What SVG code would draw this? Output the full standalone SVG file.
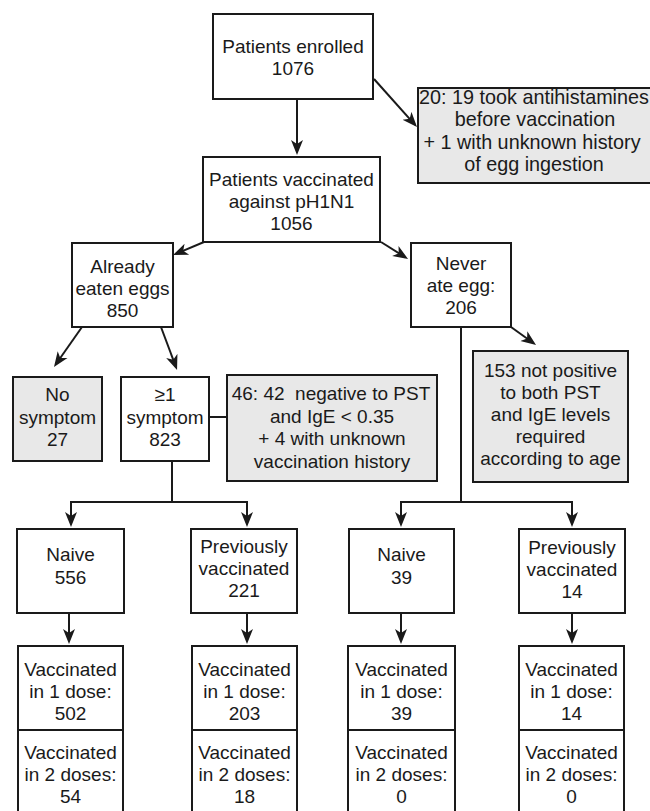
<svg xmlns="http://www.w3.org/2000/svg" width="650" height="811" viewBox="0 0 650 811">
<defs>
<style>
.box{fill:#ffffff;stroke:#1a1a1a;stroke-width:2}
.ex{fill:#e8e8e8;stroke:#1a1a1a;stroke-width:2}
.ln{fill:none;stroke:#1a1a1a;stroke-width:2}
.ar{fill:none;stroke:#1a1a1a;stroke-width:2;marker-end:url(#ah)}
text{font-family:"Liberation Sans",Arial,Helvetica,sans-serif;font-size:19px;fill:#1a1a1a;text-anchor:middle}
.big{font-size:19.8px}
</style>
<marker id="ah" markerUnits="userSpaceOnUse" viewBox="0 -7 16 14" markerWidth="16" markerHeight="14" refX="12" refY="0" orient="auto">
<path d="M0,-6 L15,0 L0,6 L4,0 Z" fill="#1a1a1a"/>
</marker>
</defs>
<rect width="650" height="811" fill="#ffffff"/>

<g id="connectors">
<line class="ar" x1="297" y1="99" x2="297" y2="152"/>
<line class="ar" x1="374" y1="79" x2="415" y2="124.8"/>
<line class="ar" x1="204" y1="242" x2="175.8" y2="253.8"/>
<line class="ar" x1="381" y1="242" x2="405.5" y2="257.4"/>
<line class="ar" x1="82" y1="327" x2="55.7" y2="364.5"/>
<line class="ar" x1="161" y1="327" x2="176" y2="367.2"/>
<line class="ar" x1="511" y1="327" x2="533.6" y2="343.2"/>
<line class="ln" x1="209" y1="417" x2="227" y2="417"/>
<line class="ln" x1="172" y1="461" x2="172" y2="502"/>
<line class="ln" x1="70" y1="502" x2="248" y2="502"/>
<line class="ar" x1="71" y1="501" x2="71" y2="524"/>
<line class="ar" x1="247" y1="501" x2="247" y2="524"/>
<line class="ln" x1="461" y1="327" x2="461" y2="502"/>
<line class="ln" x1="400" y1="502" x2="573" y2="502"/>
<line class="ar" x1="401" y1="501" x2="401" y2="524"/>
<line class="ar" x1="572" y1="501" x2="572" y2="524"/>
<line class="ar" x1="69" y1="613" x2="69" y2="641"/>
<line class="ar" x1="247" y1="613" x2="247" y2="641"/>
<line class="ar" x1="401" y1="613" x2="401" y2="641"/>
<line class="ar" x1="572" y1="613" x2="572" y2="641"/>
</g>

<g id="enrolled">
<rect class="box" x="213" y="14" width="160" height="85"/>
<text x="293" y="52.5">Patients enrolled</text>
<text x="293" y="75">1076</text>
</g>

<g id="excluded-antihistamines">
<rect class="ex" x="418" y="88" width="236" height="95"/>
<text class="big" x="534" y="103.5">20: 19 took antihistamines</text>
<text class="big" x="535" y="126">before vaccination</text>
<text class="big" x="532" y="148.5">+ 1 with unknown history</text>
<text class="big" x="534" y="171">of egg ingestion</text>
</g>

<g id="vaccinated">
<rect class="box" x="203" y="157" width="177" height="85"/>
<text x="291.5" y="186">Patients vaccinated</text>
<text x="291.5" y="208">against pH1N1</text>
<text x="291.5" y="230">1056</text>
</g>

<g id="already-eaten">
<rect class="box" x="72" y="243" width="101" height="84"/>
<text x="122.5" y="273">Already</text>
<text x="122.5" y="295">eaten eggs</text>
<text x="122.5" y="317">850</text>
</g>

<g id="never-ate">
<rect class="box" x="411" y="243" width="100" height="84"/>
<text x="461" y="270">Never</text>
<text x="461" y="292">ate egg:</text>
<text x="461" y="314">206</text>
</g>

<g id="no-symptom">
<rect class="ex" x="13" y="377" width="89" height="84"/>
<text x="57.5" y="401">No</text>
<text x="57.5" y="423.5">symptom</text>
<text x="57.5" y="446">27</text>
</g>

<g id="symptom">
<rect class="box" x="121" y="377" width="88" height="84"/>
<text x="165" y="401">≥1</text>
<text x="165" y="423.5">symptom</text>
<text x="165" y="446">823</text>
</g>

<g id="excluded-pst">
<rect class="ex" x="227" y="375" width="210" height="106"/>
<text x="331" y="400" xml:space="preserve">46: 42  negative to PST</text>
<text x="332" y="422.5">and IgE &lt; 0.35</text>
<text x="332" y="445">+ 4 with unknown</text>
<text x="332" y="467.5">vaccination history</text>
</g>

<g id="excluded-not-positive">
<rect class="ex" x="473" y="351" width="155" height="131"/>
<text x="550.5" y="377">153 not positive</text>
<text x="550.5" y="399">to both PST</text>
<text x="550.5" y="421">and IgE levels</text>
<text x="550.5" y="443">required</text>
<text x="550.5" y="465">according to age</text>
</g>

<g id="naive-556">
<rect class="box" x="17" y="529" width="107" height="84"/>
<text x="70.5" y="561">Naive</text>
<text x="70.5" y="583.5">556</text>
</g>

<g id="prev-221">
<rect class="box" x="191" y="529" width="106" height="84"/>
<text x="244" y="553">Previously</text>
<text x="244" y="575">vaccinated</text>
<text x="244" y="597">221</text>
</g>

<g id="naive-39">
<rect class="box" x="349" y="529" width="105" height="84"/>
<text x="401.5" y="561">Naive</text>
<text x="401.5" y="583.5">39</text>
</g>

<g id="prev-14">
<rect class="box" x="519" y="529" width="106" height="84"/>
<text x="572" y="554">Previously</text>
<text x="572" y="576">vaccinated</text>
<text x="572" y="598">14</text>
</g>

<g id="doses-556">
<rect class="box" x="18" y="646" width="105" height="84"/>
<rect class="box" x="18" y="730" width="105" height="86"/>
<text x="70.5" y="676">Vaccinated</text>
<text x="70.5" y="698">in 1 dose:</text>
<text x="70.5" y="720">502</text>
<text x="70.5" y="759">Vaccinated</text>
<text x="70.5" y="781">in 2 doses:</text>
<text x="70.5" y="803">54</text>
</g>

<g id="doses-221">
<rect class="box" x="192" y="646" width="105" height="84"/>
<rect class="box" x="192" y="730" width="105" height="86"/>
<text x="244.5" y="676">Vaccinated</text>
<text x="244.5" y="698">in 1 dose:</text>
<text x="244.5" y="720">203</text>
<text x="244.5" y="759">Vaccinated</text>
<text x="244.5" y="781">in 2 doses:</text>
<text x="244.5" y="803">18</text>
</g>

<g id="doses-39">
<rect class="box" x="348" y="646" width="107" height="84"/>
<rect class="box" x="348" y="730" width="107" height="86"/>
<text x="401.5" y="676">Vaccinated</text>
<text x="401.5" y="698">in 1 dose:</text>
<text x="401.5" y="720">39</text>
<text x="401.5" y="759">Vaccinated</text>
<text x="401.5" y="781">in 2 doses:</text>
<text x="401.5" y="803">0</text>
</g>

<g id="doses-14">
<rect class="box" x="519" y="646" width="105" height="84"/>
<rect class="box" x="519" y="730" width="105" height="86"/>
<text x="571.5" y="676">Vaccinated</text>
<text x="571.5" y="698">in 1 dose:</text>
<text x="571.5" y="720">14</text>
<text x="571.5" y="759">Vaccinated</text>
<text x="571.5" y="781">in 2 doses:</text>
<text x="571.5" y="803">0</text>
</g>
</svg>
